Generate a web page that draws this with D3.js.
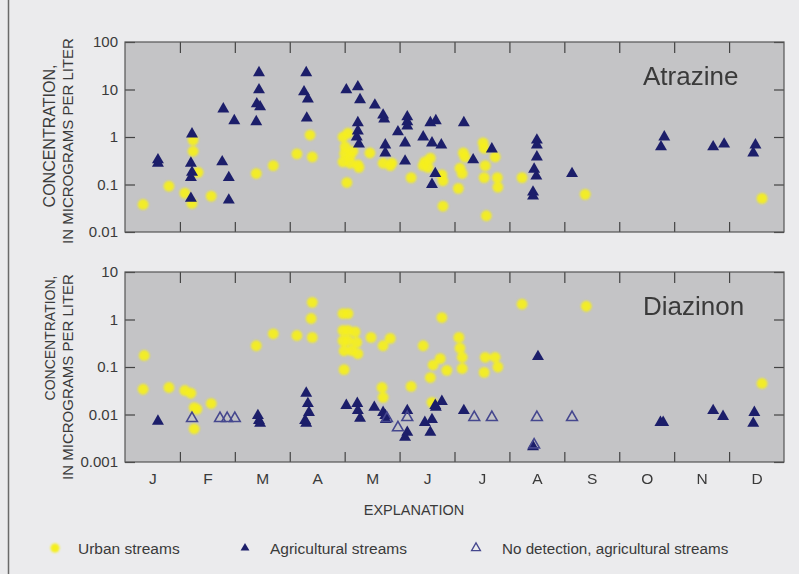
<!DOCTYPE html>
<html>
<head>
<meta charset="utf-8">
<script src="https://cdn.jsdelivr.net/npm/d3@7/dist/d3.min.js"></script>
<style>
  html, body { margin: 0; padding: 0; background: #ebebed; }
  svg { display: block; }
  text { font-family: "Liberation Sans", Arial, Helvetica, sans-serif; fill: #3a3a3a; }
</style>
</head>
<body>
<svg id="chart" width="799" height="574"></svg>
<script>
// ---------------- DATA (month as fractional month, 0 = 1 Jan) ----------------
const months = ["J","F","M","A","M","J","J","A","S","O","N","D"];
const atrazineTicks = [0.01, 0.1, 1, 10, 100];
const atrazineTickLabels = ["0.01", "0.1", "1", "10", "100"];
const diazinonTicks = [0.001, 0.01, 0.1, 1, 10];
const diazinonTickLabels = ["0.001", "0.01", "0.1", "1", "10"];

const atrazineUrban = [
  [0.33,0.038],[0.80,0.092],[1.09,0.066],[1.22,0.04],[1.24,0.86],[1.24,0.5],[1.33,0.18],[1.57,0.057],
  [2.39,0.17],[2.70,0.25],[3.13,0.44],[3.37,1.1],[3.41,0.38],
  [4.04,0.11],[3.97,1.0],[4.06,1.2],[4.01,0.62],[3.97,0.3],[4.10,0.28],[4.24,0.26],[4.10,0.4],[4.26,0.23],[4.00,0.45],[4.15,0.5],
  [4.46,0.46],[4.70,0.28],[4.83,0.25],[4.86,0.28],
  [5.21,0.14],[5.46,0.3],[5.56,0.36],[5.52,0.23],[5.43,0.25],
  [5.77,0.16],[5.79,0.12],[5.79,0.035],[6.07,0.083],[6.10,0.22],[6.14,0.17],[6.16,0.46],[6.19,0.38],
  [6.52,0.75],[6.54,0.58],[6.56,0.25],[6.54,0.14],[6.58,0.022],[6.74,0.38],[6.78,0.14],[6.79,0.088],
  [7.23,0.14],[8.38,0.062],[11.60,0.051]
];
const atrazineAgricultural = [
  [0.60,0.33],[0.60,0.28],
  [1.22,1.16],[1.20,0.28],[1.22,0.18],[1.20,0.14],[1.20,0.051],
  [1.77,0.30],[1.79,3.9],[1.99,2.2],[1.89,0.14],[1.89,0.047],
  [2.44,22.6],[2.44,9.8],[2.40,5.0],[2.46,4.3],[2.39,2.1],
  [3.30,22.6],[3.26,8.9],[3.33,6.3],[3.31,2.5],
  [4.03,9.8],[4.24,11.4],[4.28,6.1],[4.55,4.7],[4.70,2.9],[4.72,2.4],
  [4.24,2.0],[4.24,1.34],[4.22,1.0],[4.26,0.71],
  [4.74,0.68],[4.74,0.46],[4.97,1.28],
  [5.14,2.65],[5.14,2.1],[5.14,1.7],[5.10,0.75],[5.10,0.31],
  [5.56,2.0],[5.66,2.2],[6.17,2.0],[5.43,1.0],[5.59,0.75],[5.76,0.68],
  [5.65,0.17],[5.59,0.10],[6.34,0.33],[6.68,0.56],
  [7.50,0.86],[7.50,0.68],[7.50,0.38],[7.45,0.21],[7.49,0.15],[7.43,0.069],[7.43,0.057],
  [8.14,0.17],[9.82,1.0],[9.76,0.62],[10.71,0.62],[10.91,0.71],[11.48,0.68],[11.44,0.46]
];
const diazinonUrban = [
  [0.35,0.175],[0.33,0.034],[0.80,0.037],[1.09,0.032],[1.20,0.028],[1.26,0.014],[1.31,0.013],[1.26,0.005],[1.57,0.017],
  [2.39,0.28],[2.70,0.5],[3.13,0.46],[3.41,2.3],[3.39,1.05],[3.41,0.42],
  [3.97,1.33],[4.06,1.33],[3.97,0.59],[4.06,0.59],[4.19,0.55],[3.97,0.36],[4.06,0.36],[4.22,0.33],[3.99,0.22],[4.13,0.22],[4.24,0.19],
  [3.99,0.088],[4.48,0.42],[4.70,0.28],[4.83,0.4],[4.68,0.037],[4.70,0.023],
  [5.21,0.039],[5.43,0.28],[5.77,1.1],[5.74,0.15],[5.61,0.11],[5.56,0.06],[5.86,0.085],[5.59,0.018],
  [6.08,0.42],[6.10,0.25],[6.14,0.16],[6.14,0.093],[6.56,0.16],[6.74,0.16],[6.79,0.1],[6.54,0.077],
  [7.23,2.1],[8.40,1.9],[11.60,0.045]
];
const diazinonAgricultural = [
  [0.60,0.0072],
  [2.42,0.0095],[2.44,0.0075],[2.46,0.0065],
  [3.30,0.028],[3.33,0.017],[3.35,0.011],[3.28,0.0075],[3.30,0.0065],
  [4.03,0.0155],[4.23,0.0171],[4.24,0.0121],[4.28,0.0083],
  [4.54,0.0141],[4.70,0.011],[4.74,0.0095],[4.75,0.0078],
  [5.14,0.0121],[5.14,0.0042],[5.10,0.0033],
  [5.46,0.0068],[5.59,0.0078],[5.56,0.0042],
  [5.65,0.0155],[5.77,0.0188],[5.66,0.0141],
  [6.17,0.0121],[7.52,0.166],[7.43,0.0021],
  [9.75,0.0068],[9.80,0.0068],[10.71,0.0121],[10.89,0.0091],[11.46,0.011],[11.44,0.0065]
];
const diazinonNoDetection = [
  [1.22,0.0083],[1.73,0.0083],[1.86,0.0083],[2.00,0.0083],
  [4.77,0.0083],[4.97,0.0053],[5.14,0.0087],
  [6.36,0.0087],[6.68,0.0087],[7.50,0.0087],[8.14,0.0087],[7.45,0.0023]
];
const legendLabels = ["Urban streams", "Agricultural streams", "No detection, agricultural streams"];

// ---------------- DRAWING ----------------
const svg = d3.select("#chart");
const YELLOW = "#f5ef1c", NAVY = "#1c1e6a", OPEN = "#45478e";

const defs = svg.append("defs");
defs.append("filter").attr("id", "soft").attr("x", "-50%").attr("y", "-50%").attr("width", "200%").attr("height", "200%")
  .append("feGaussianBlur").attr("stdDeviation", 0.9);

// page frame line on the left
svg.append("line").attr("x1", 8.5).attr("x2", 8.5).attr("y1", 0).attr("y2", 574)
  .attr("stroke", "#6a6a6a").attr("stroke-width", 1.5);

const x = d3.scaleLinear().domain([0, 12]).range([125, 784]);

const triSym = d3.symbol().type(d3.symbolTriangle).size(62);

function panel(cfg) {
  const y = d3.scaleLog().domain(cfg.domain).range([cfg.bottom, cfg.top]);
  const g = svg.append("g");
  g.append("rect").attr("x", x(0)).attr("y", cfg.top).attr("width", x(12) - x(0)).attr("height", cfg.bottom - cfg.top)
    .attr("fill", "#c4c4c6");

  const styleAxis = a => {
    a.select(".domain").remove();
    a.selectAll("line").attr("stroke", "#444").attr("stroke-width", 1.2);
  };
  // left
  g.append("g").attr("transform", `translate(${x(0)},0)`)
    .call(d3.axisLeft(y).tickValues(cfg.ticks).tickSize(-10).tickPadding(7)
      .tickFormat((d, i) => cfg.tickLabels[i]))
    .call(styleAxis)
    .call(a => a.selectAll("text").attr("font-size", 15).attr("fill", "#3a3a3a")
      .attr("font-family", "Liberation Sans, Arial, sans-serif"));
  // right
  g.append("g").attr("transform", `translate(${x(12)},0)`)
    .call(d3.axisRight(y).tickValues(cfg.ticks).tickSize(-10).tickFormat(""))
    .call(styleAxis);
  // top and bottom month ticks
  const mt = d3.range(1, 12);
  g.append("g").attr("transform", `translate(0,${cfg.top})`)
    .call(d3.axisTop(x).tickValues(mt).tickSize(-11).tickFormat(""))
    .call(styleAxis);
  g.append("g").attr("transform", `translate(0,${cfg.bottom})`)
    .call(d3.axisBottom(x).tickValues(mt).tickSize(-10).tickFormat(""))
    .call(styleAxis);

  g.append("rect").attr("x", x(0)).attr("y", cfg.top).attr("width", x(12) - x(0)).attr("height", cfg.bottom - cfg.top)
    .attr("fill", "none").attr("stroke", "#555").attr("stroke-width", 1.2);

  // urban dots
  g.append("g").attr("filter", "url(#soft)").selectAll("circle").data(cfg.urban).join("circle")
    .attr("cx", d => x(d[0])).attr("cy", d => y(d[1])).attr("r", 5.4)
    .attr("fill", YELLOW).attr("opacity", 0.93);
  // agricultural triangles
  g.append("g").selectAll("path").data(cfg.ag).join("path")
    .attr("d", triSym)
    .attr("transform", d => `translate(${x(d[0])},${y(d[1])})`)
    .attr("fill", NAVY);
  if (cfg.nodet) {
    g.append("g").selectAll("path").data(cfg.nodet).join("path")
      .attr("d", d3.symbol().type(d3.symbolTriangle).size(50))
      .attr("transform", d => `translate(${x(d[0])},${y(d[1])})`)
      .attr("fill", "none").attr("stroke", OPEN).attr("stroke-width", 1.6);
  }

  // title
  g.append("text").attr("x", 643).attr("y", cfg.titleY).attr("font-size", 26).attr("fill", "#2a2a2a")
    .text(cfg.title);

  // y-axis label
  g.append("text").attr("transform", `translate(55,${cfg.l1y}) rotate(-90)`).attr("text-anchor", "middle")
    .attr("font-size", cfg.l1size).text("CONCENTRATION,");
  g.append("text").attr("transform", `translate(73,${cfg.l2y}) rotate(-90)`).attr("text-anchor", "middle")
    .attr("font-size", 15).text("IN MICROGRAMS PER LITER");
  return y;
}

panel({ domain: [0.01, 100], top: 42, bottom: 232, ticks: atrazineTicks, tickLabels: atrazineTickLabels,
  urban: atrazineUrban, ag: atrazineAgricultural, title: "Atrazine", titleY: 85,
  l1y: 136, l1size: 16, l2y: 141 });
panel({ domain: [0.001, 10], top: 272, bottom: 462, ticks: diazinonTicks, tickLabels: diazinonTickLabels,
  urban: diazinonUrban, ag: diazinonAgricultural, nodet: diazinonNoDetection, title: "Diazinon", titleY: 315,
  l1y: 338, l1size: 14, l2y: 377 });

// month labels
svg.append("g").attr("transform", "translate(0,462)")
  .call(d3.axisBottom(x).tickValues(d3.range(12).map(i => i + 0.5)).tickSize(0).tickPadding(11)
    .tickFormat((d, i) => months[i]))
  .call(a => a.select(".domain").remove())
  .call(a => a.selectAll("text").attr("font-size", 15.5).attr("fill", "#3a3a3a")
    .attr("font-family", "Liberation Sans, Arial, sans-serif"));

// explanation / legend
svg.append("text").attr("x", 414).attr("y", 515).attr("text-anchor", "middle").attr("font-size", 14.5)
  .text("EXPLANATION");
const ly = 548;
svg.append("circle").attr("cx", 55).attr("cy", ly).attr("r", 4.5).attr("fill", YELLOW).attr("filter", "url(#soft)");
svg.append("text").attr("x", 78).attr("y", ly + 5.5).attr("font-size", 15.5).text(legendLabels[0]);
svg.append("path").attr("d", d3.symbol().type(d3.symbolTriangle).size(34)())
  .attr("transform", `translate(245,${ly})`).attr("fill", NAVY);
svg.append("text").attr("x", 270).attr("y", ly + 5.5).attr("font-size", 15.5).text(legendLabels[1]);
svg.append("path").attr("d", d3.symbol().type(d3.symbolTriangle).size(34)())
  .attr("transform", `translate(476,${ly})`).attr("fill", "none").attr("stroke", OPEN).attr("stroke-width", 1.3);
svg.append("text").attr("x", 502).attr("y", ly + 5.5).attr("font-size", 15.2).text(legendLabels[2]);
</script>
</body>
</html>
